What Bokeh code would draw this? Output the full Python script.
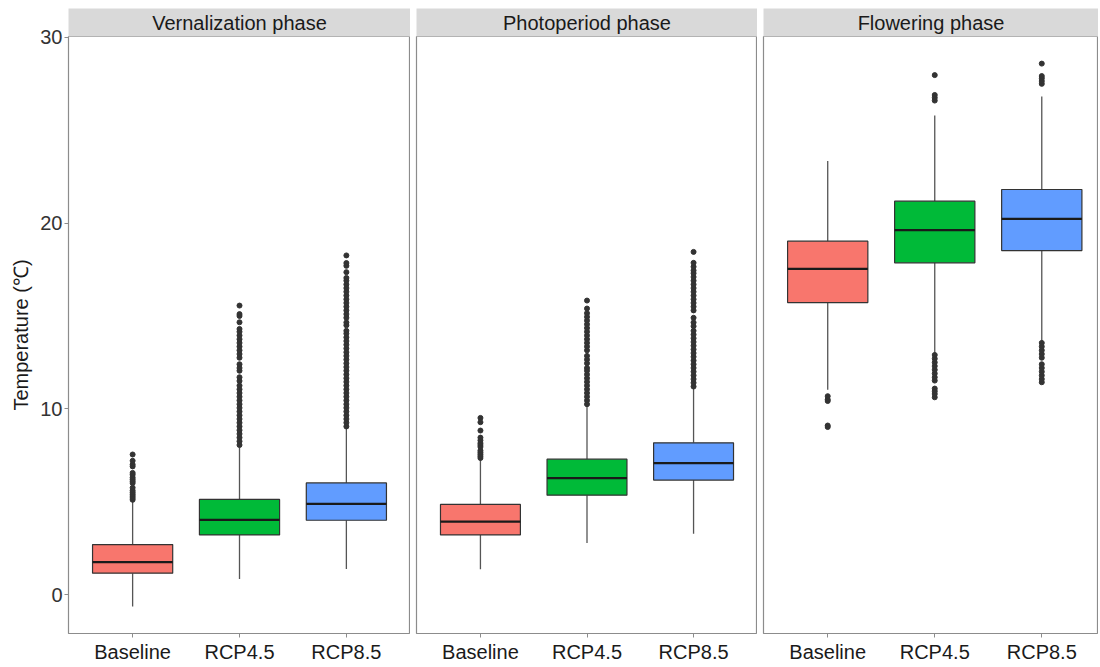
from bokeh.plotting import figure
from bokeh.models import Range1d, FixedTicker, LinearAxis, ColumnDataSource
from bokeh.layouts import row
from bokeh.embed import file_html
from bokeh.resources import INLINE

categories = ["Baseline", "RCP4.5", "RCP8.5"]
phases = ["Vernalization phase", "Photoperiod phase", "Flowering phase"]
colors = ["#F8766D", "#00BA38", "#619CFF"]

# box statistics per phase: [lower whisker, q1, median, q3, upper whisker] per category
vern_stats = [[-0.65, 1.15, 1.74, 2.69, 5.03],
              [0.83, 3.21, 4.02, 5.12, 7.93],
              [1.38, 4.00, 4.88, 6.01, 8.97]]
photo_stats = [[1.36, 3.21, 3.93, 4.85, 7.29],
               [2.77, 5.35, 6.27, 7.29, 10.18],
               [3.27, 6.16, 7.07, 8.17, 11.13]]
flower_stats = [[11.02, 15.72, 17.54, 19.03, 23.34],
                [12.96, 17.86, 19.62, 21.18, 25.80],
                [13.64, 18.52, 20.23, 21.81, 26.82]]

# outliers
vern_base_out = [5.1, 5.2, 5.3, 5.4, 5.5, 5.6, 5.75, 6.0, 6.1, 6.2, 6.3, 6.45, 6.55, 6.9, 7.0, 7.2, 7.54]
vern_45_out = [8.05, 8.25, 8.45, 8.65, 8.85, 9.05, 9.25, 9.45, 9.65, 9.85, 10.05, 10.25, 10.45, 10.65,
               10.85, 11.05, 11.25, 11.5, 11.7, 12.05, 12.2, 12.4, 12.75, 12.95, 13.15, 13.35, 13.55,
               13.75, 13.95, 14.15, 14.3, 14.66, 15.0, 15.1, 15.56]
vern_85_out = [9.05, 9.25, 9.45, 9.65, 9.85, 10.05, 10.25, 10.45, 10.65, 10.85, 11.05, 11.25, 11.45,
               11.65, 11.85, 12.05, 12.25, 12.45, 12.65, 12.85, 13.05, 13.25, 13.45, 13.65, 13.85,
               14.05, 14.2, 14.5, 14.65, 14.9, 15.1, 15.3, 15.5, 15.7, 15.9, 16.1, 16.3, 16.5, 16.7,
               16.9, 17.05, 17.36, 17.7, 17.85, 18.26]
photo_base_out = [7.35, 7.45, 7.55, 7.65, 7.75, 7.95, 8.05, 8.15, 8.3, 8.45, 8.83, 9.28, 9.51]
photo_45_out = [10.25, 10.45, 10.65, 10.85, 11.05, 11.25, 11.45, 11.65, 11.85, 12.05, 12.2, 12.45,
                12.65, 12.85, 13.15, 13.35, 13.55, 13.75, 13.95, 14.15, 14.35, 14.55, 14.75, 14.95,
                15.15, 15.4, 15.83]
photo_85_out = [11.2, 11.4, 11.6, 11.8, 12.0, 12.2, 12.4, 12.6, 12.8, 13.0, 13.2, 13.4, 13.6, 13.8,
                14.0, 14.2, 14.45, 14.65, 14.9, 15.3, 15.5, 15.7, 15.9, 16.1, 16.3, 16.5, 16.7, 16.9,
                17.1, 17.3, 17.45, 17.65, 17.86, 18.45]
flower_base_out = [10.68, 10.5, 10.42, 9.1, 9.02]
flower_45_out = [10.62, 10.8, 10.95, 11.09, 11.52, 11.7, 11.9, 12.1, 12.3, 12.5, 12.7, 12.9,
                 26.6, 26.75, 26.9, 27.97]
flower_85_out = [11.43, 11.6, 11.8, 12.0, 12.2, 12.4, 12.75, 12.95, 13.15, 13.35, 13.55,
                 27.5, 27.65, 27.8, 27.92, 28.59]

all_stats = [vern_stats, photo_stats, flower_stats]
all_out = [[vern_base_out, vern_45_out, vern_85_out],
           [photo_base_out, photo_45_out, photo_85_out],
           [flower_base_out, flower_45_out, flower_85_out]]

FONT = "Liberation Sans"
frame_widths = [342, 341, 335]
x_ends = [3.6, 3.6, 3.53]
left_borders = [68, 6, 6]
BOX_W = 0.75

panels = []
for i, phase in enumerate(phases):
    first = (i == 0)
    p = figure(frame_width=frame_widths[i], frame_height=597,
               x_range=Range1d(0.4, x_ends[i]), y_range=Range1d(-2.10, 30.05),
               output_backend="svg", toolbar_location=None,
               y_axis_location="left" if first else None,
               min_border_left=left_borders[i], min_border_right=0,
               min_border_top=36, min_border_bottom=0)
    p.background_fill_color = "white"
    p.border_fill_color = "white"
    p.outline_line_color = "#8C8C8C"
    p.outline_line_width = 1.2
    p.xgrid.visible = False
    p.ygrid.visible = False

    stats = all_stats[i]
    xs = [k + 1 for k in range(len(categories))]
    src = ColumnDataSource(dict(
        x=xs,
        left=[x - BOX_W / 2 for x in xs],
        right=[x + BOX_W / 2 for x in xs],
        lw=[s[0] for s in stats], q1=[s[1] for s in stats], med=[s[2] for s in stats],
        q3=[s[3] for s in stats], uw=[s[4] for s in stats], color=colors))
    p.segment(x0="x", x1="x", y0="q3", y1="uw", source=src, line_color="#555555", line_width=1.3)
    p.segment(x0="x", x1="x", y0="lw", y1="q1", source=src, line_color="#555555", line_width=1.3)
    p.quad(left="left", right="right", bottom="q1", top="q3", source=src,
           fill_color="color", line_color="#333333", line_width=1.2)
    p.segment(x0="left", x1="right", y0="med", y1="med", source=src, line_color="#1A1A1A", line_width=2.2)

    ox, oy = [], []
    for k, vals in enumerate(all_out[i]):
        ox += [xs[k]] * len(vals)
        oy += vals
    p.scatter(ox, oy, size=5, fill_color="#333333", line_color="#333333")

    # x axis
    xa = p.xaxis[0]
    xa.ticker = FixedTicker(ticks=xs)
    xa.major_label_overrides = {x: c for x, c in zip(xs, categories)}
    xa.axis_line_color = None
    xa.major_tick_line_color = "#8C8C8C"
    xa.major_tick_out = 4
    xa.major_tick_in = 0
    xa.minor_tick_line_color = None
    xa.major_label_standoff = 3
    xa.major_label_text_font = FONT
    xa.major_label_text_font_size = "20px"
    xa.major_label_text_color = "#1A1A1A"

    if first:
        ya = p.yaxis[0]
        ya.ticker = FixedTicker(ticks=[0, 10, 20, 30])
        ya.axis_line_color = None
        ya.major_tick_line_color = "#8C8C8C"
        ya.major_tick_out = 4
        ya.major_tick_in = 0
        ya.minor_tick_line_color = None
        ya.major_label_standoff = 2
        ya.major_label_text_font = FONT
        ya.major_label_text_font_size = "20px"
        ya.major_label_text_color = "#333333"
        ya.axis_label = "Temperature (℃)"
        ya.axis_label_text_font = FONT
        ya.axis_label_text_font_size = "20px"
        ya.axis_label_text_font_style = "normal"
        ya.axis_label_text_color = "#1A1A1A"
        ya.axis_label_standoff = 5

    strip = LinearAxis(ticker=FixedTicker(ticks=[]), axis_label=phase,
                       axis_line_color=None, major_tick_line_color=None,
                       minor_tick_line_color=None, major_tick_out=0, major_tick_in=0,
                       minor_tick_out=0, minor_tick_in=0, major_label_standoff=0,
                       major_label_text_font_size="0px",
                       axis_label_standoff=3, axis_label_text_font=FONT,
                       axis_label_text_font_size="20px", axis_label_text_font_style="normal",
                       axis_label_text_color="#1A1A1A",
                       background_fill_color="#D9D9D9")
    p.add_layout(strip, "above")
    panels.append(p)

layout = row(*panels, spacing=0)
open("out.html", "w").write(file_html(layout, INLINE))
